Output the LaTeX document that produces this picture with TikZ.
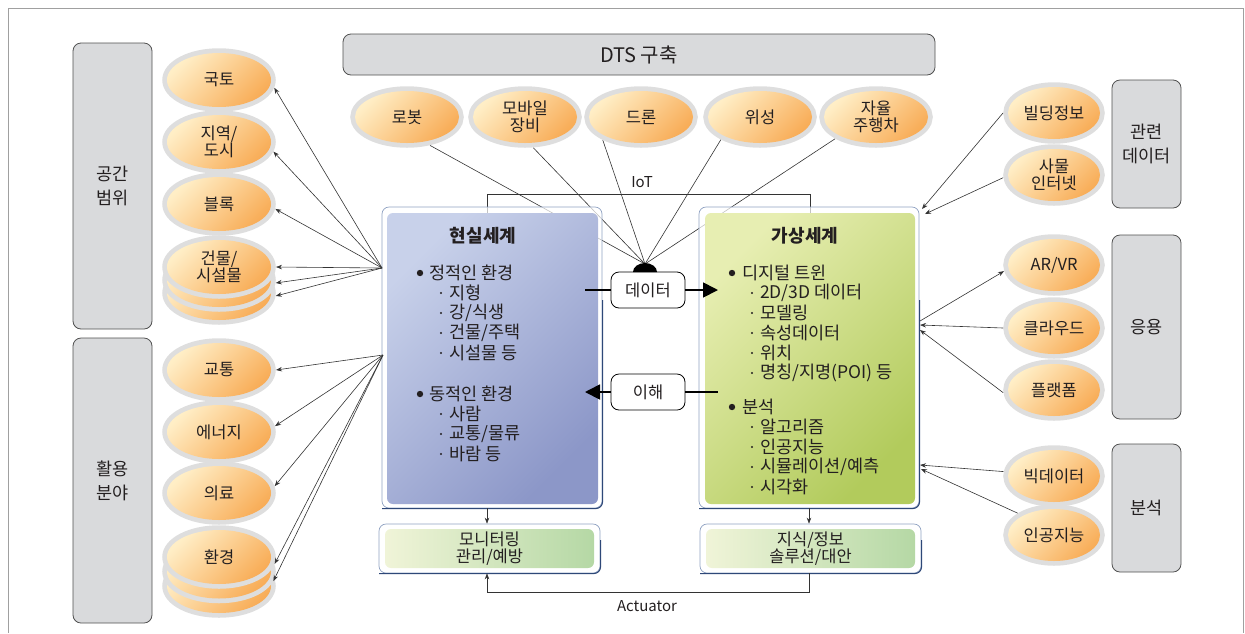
\documentclass[tikz,border=0pt]{standalone}
\usepackage{fontspec}
\setmainfont{Noto Sans CJK KR}
\usetikzlibrary{shapes.geometric,arrows.meta,calc}
\definecolor{txtC}{HTML}{231F20}
\definecolor{frameC}{HTML}{A0A0A0}
\definecolor{panelF}{HTML}{D9DADC}
\definecolor{panelB}{HTML}{505050}
\definecolor{orL}{HTML}{FFEEC6}
\definecolor{orR}{HTML}{F8AD58}
\definecolor{haloC}{HTML}{DEDEDE}
\definecolor{reL}{HTML}{C8D1EA}
\definecolor{reR}{HTML}{8C97C8}
\definecolor{viL}{HTML}{E7EEB2}
\definecolor{viR}{HTML}{B2CB5C}
\definecolor{grL}{HTML}{F0F4D8}
\definecolor{grR}{HTML}{B5D8A5}
\definecolor{ringC}{HTML}{90A2C2}
\definecolor{shadC}{HTML}{2E4878}
\definecolor{lineC}{HTML}{333333}
\pgfdeclarelayer{bg}
\pgfsetlayers{bg,main}
\begin{document}
\begin{tikzpicture}[x=1pt,y=-1pt,
  panel/.style={rectangle, draw=panelB, line width=0.8pt, fill=panelF, rounded corners=8pt,
    inner sep=0pt, align=center, text=txtC, font=\fontsize{17.5}{24}\selectfont},
  ovalL/.style={ellipse, inner sep=0pt, outer sep=5pt, minimum width=104pt, minimum height=54pt,
    preaction={draw=haloC, line width=9.5pt}, left color=orL, right color=orR, shading angle=45,
    align=center, text=txtC, font=\fontsize{16.5}{17}\selectfont},
  ovalT/.style={ovalL, minimum height=52pt},
  ovalR/.style={ovalL, minimum width=92pt, minimum height=52pt},
  ring/.style={rectangle, rounded corners=7pt, draw=ringC, line width=0.7pt, fill=white,
    fill opacity=0.7, inner sep=0pt},
  realin/.style={rectangle, rounded corners=6pt, inner sep=0pt, left color=reL, right color=reR, shading angle=45},
  virtin/.style={rectangle, rounded corners=6pt, inner sep=0pt, left color=viL, right color=viR, shading angle=45},
  greenin/.style={rectangle, rounded corners=6pt, inner sep=0pt, left color=grL, right color=grR,
    align=center, text=txtC, font=\fontsize{16.5}{17}\selectfont},
  smallbox/.style={rectangle, rounded corners=8pt, draw=black, line width=0.8pt, fill=white,
    minimum width=74pt, minimum height=36pt, inner sep=0pt, text=txtC, font=\fontsize{16.5}{18}\selectfont},
  ttl/.style={inner sep=0pt, text=txtC, font=\fontsize{18}{20}\selectfont\bfseries},
  itm/.style={inner sep=0pt, anchor=west, text=txtC, font=\fontsize{17.5}{20}\selectfont},
  lbl/.style={inner sep=0pt, text=txtC, font=\fontsize{15}{16}\selectfont},
  thinl/.style={draw=lineC, line width=0.6pt},
  arr/.style={thinl, -{Stealth[length=6pt,width=4.5pt]}},
  bigl/.style={draw=black, line width=1.8pt},
  bigarr/.style={bigl, -{Triangle[length=15pt,width=15pt]}},
  shadow/.style={draw=shadC, line width=1.1pt, rounded corners=7pt}
]
\useasboundingbox (0,0) rectangle (1245,633);
\draw[frameC, line width=1pt] (8,633) -- (8,8) -- (1243,8) -- (1243,633);

% side panels and title bar
\node[panel, minimum width=79pt, minimum height=286pt] (pSpace) at (112.5,186) {공간\\범위};
\node[panel, minimum width=79pt, minimum height=285pt] (pUse) at (112.5,480.5) {활용\\분야};
\node[panel, minimum width=69pt, minimum height=128pt] (pRel) at (1146.5,144) {관련\\데이터};
\node[panel, minimum width=69pt, minimum height=184pt] (pApp) at (1146.5,327) {응용};
\node[panel, minimum width=69pt, minimum height=128pt] (pAna) at (1146.5,508) {분석};
\node[panel, minimum width=592pt, minimum height=41pt, font=\fontsize{20}{21}\selectfont] (dts) at (639,54.5) {DTS 구축};

% main boxes
\node[ring, minimum width=220pt, minimum height=301pt] (realout) at (492,357.5) {};
\draw[shadow] (602.6,300) -- (602.6,508.6) -- (382,508.6);
\node[realin, minimum width=211pt, minimum height=291pt] (realin) at (492.5,358.5) {};
\node[ring, minimum width=220pt, minimum height=301pt] (virtout) at (809,357.5) {};
\draw[shadow] (919.6,300) -- (919.6,508.6) -- (699,508.6);
\node[virtin, minimum width=210pt, minimum height=291pt] (virtin) at (810,358.5) {};

\node[ring, minimum width=221pt, minimum height=49pt] (monout) at (489.5,548.5) {};
\draw[shadow] (600.6,540) -- (600.6,573.6) -- (379,573.6);
\node[greenin, minimum width=209pt, minimum height=39pt] (mon) at (489.5,548.5) {모니터링\\관리/예방};
\node[ring, minimum width=221pt, minimum height=49pt] (knowout) at (810.5,548.5) {};
\draw[shadow] (921.6,540) -- (921.6,573.6) -- (700,573.6);
\node[greenin, minimum width=209pt, minimum height=39pt] (know) at (810.5,548.5) {지식/정보\\솔루션/대안};

% real world text
\node[ttl] (realT) at (483,236) {현실세계};
\fill[txtC] (420,273) circle (3.2pt);
\node[itm] (r0) at (429,273) {정적인 환경};
\foreach \t [count=\i] in {지형, 강/식생, 건물/주택, 시설물 등} {
  \fill[txtC] (441,{273+20*\i}) circle (1.2pt);
  \node[itm] (ra\i) at (449,{273+20*\i}) {\t};
}
\fill[txtC] (420,394) circle (3.2pt);
\node[itm] (r1) at (429,394) {동적인 환경};
\foreach \t [count=\i] in {사람, 교통/물류, 바람 등} {
  \fill[txtC] (441,{394+20*\i}) circle (1.2pt);
  \node[itm] (rb\i) at (449,{394+20*\i}) {\t};
}

% virtual world text
\node[ttl] (virtT) at (805,236) {가상세계};
\fill[txtC] (732,273) circle (3.2pt);
\node[itm] (v0) at (742,273) {디지털 트윈};
\foreach \t [count=\i] in {2D/3D 데이터, 모델링, 속성데이터, 위치, 명칭/지명(POI) 등} {
  \fill[txtC] (752,{273+20*\i}) circle (1.2pt);
  \node[itm] (va\i) at (760,{273+20*\i}) {\t};
}
\fill[txtC] (732,407) circle (3.2pt);
\node[itm] (v1) at (742,407) {분석};
\foreach \t [count=\i] in {알고리즘, 인공지능, 시뮬레이션/예측, 시각화} {
  \fill[txtC] (752,{407+20*\i}) circle (1.2pt);
  \node[itm] (vb\i) at (760,{407+20*\i}) {\t};
}

% top ellipses
\node[ovalT] (robot) at (407,117) {로봇};
\node[ovalT] (mobile) at (525,117) {모바일\\장비};
\node[ovalT] (drone) at (641,117) {드론};
\node[ovalT] (sat) at (760,117) {위성};
\node[ovalT] (auto) at (876,117) {자율\\주행차};

% left ellipses
\node[ovalL] (gukto) at (219,80) {국토};
\node[ovalL] (city) at (219,142) {지역/\\도시};
\node[ovalL] (block) at (219,204) {블록};
\node[ovalL] (bld1) at (219,293) {};
\node[ovalL] (bld2) at (219,280) {};
\node[ovalL] (bld3) at (219,267) {건물/\\시설물};
\node[ovalL] (traffic) at (219,370) {교통};
\node[ovalL] (energy) at (219,432) {에너지};
\node[ovalL] (medical) at (219,493) {의료};
\node[ovalL] (env1) at (219,586) {};
\node[ovalL] (env2) at (219,571.5) {};
\node[ovalL] (env3) at (219,557) {환경};

% right ellipses
\node[ovalR] (bldinfo) at (1054,113) {빌딩정보};
\node[ovalR] (iot) at (1054,175) {사물\\인터넷};
\node[ovalR] (arvr) at (1054,265) {AR/VR};
\node[ovalR] (cloud) at (1054,328) {클라우드};
\node[ovalR] (platform) at (1054,390) {플랫폼};
\node[ovalR] (bigdata) at (1054,476) {빅데이터};
\node[ovalR] (ai) at (1054,535) {인공지능};

% data / understanding boxes
\node[smallbox] (data) at (648,290) {데이터};
\node[smallbox] (underst) at (648,392) {이해};

% coordinates
\coordinate (hub) at (645,264);
\coordinate (iotL) at (487,194);
\coordinate (iotR) at (810,194);
\coordinate (colL) at (487,0);
\coordinate (colR) at (809,0);
\coordinate (act) at (647,592);
\coordinate (srcA) at (382,268);
\coordinate (srcB) at (383,355);
\coordinate (dS) at (585,290);
\coordinate (dE) at (718,290);
\coordinate (uS) at (718,392);
\coordinate (uE) at (585,392);
\coordinate (vTR1) at (922,209);
\coordinate (vTR2) at (925,214);
\coordinate (vR1) at (920,321);
\coordinate (vR2) at (920,325);
\coordinate (vR3) at (920,330);
\coordinate (vR4) at (920,465);
\coordinate (vR5) at (921,469);

% background connectors (behind the boxes)
\begin{pgfonlayer}{bg}
\draw[thinl] (robot.309) -- (hub);
\draw[thinl] (mobile.285) -- (hub);
\draw[thinl] (drone.211) -- (hub);
\draw[thinl] (sat.210) -- (hub);
\draw[thinl] (auto.208) -- (hub);
\draw[thinl] (colL |- realin.north) -- (iotL) -- (iotR) -- (iotR |- virtin.north);
\end{pgfonlayer}

\fill[black] (633,272) arc[start angle=180, end angle=0, x radius=12pt, y radius=9pt] -- cycle;
\node[lbl] (iotlbl) at (642,182) {IoT};

% data arrows
\draw[bigl] (dS) -- (data.west);
\draw[bigarr] (data.east) -- (dE);
\draw[bigl] (underst.east) -- (uS);
\draw[bigarr] (underst.west) -- (uE);

% vertical arrows and actuator loop
\draw[arr] (colL |- realout.south) -- (colL |- monout.north);
\draw[arr] (colR |- virtout.south) -- (colR |- knowout.north);
\draw[arr] (colR |- knowout.south) -- (colR |- act) -- (colL |- act) -- (colL |- monout.south);
\node[lbl] (actlbl) at (647,606) {Actuator};

% left arrows
\foreach \n/\a in {gukto/352, city/350, block/355, bld3/0, bld2/357, bld1/357}
  \draw[arr] (srcA) -- (\n.\a);
\foreach \n/\a in {traffic/0, energy/6, medical/7, env3/353, env2/350}
  \draw[arr] (srcB) -- (\n.\a);

% right arrows
\draw[arr] (bldinfo.west) -- (vTR1);
\draw[arr] (iot.183) -- (vTR2);
\draw[arr] (vR1) -- (arvr.187);
\draw[arr] (cloud.west) -- (vR2);
\draw[arr] (platform.183) -- (vR3);
\draw[arr] (bigdata.175) -- (vR4);
\draw[arr] (ai.149) -- (vR5);
\end{tikzpicture}
\end{document}
